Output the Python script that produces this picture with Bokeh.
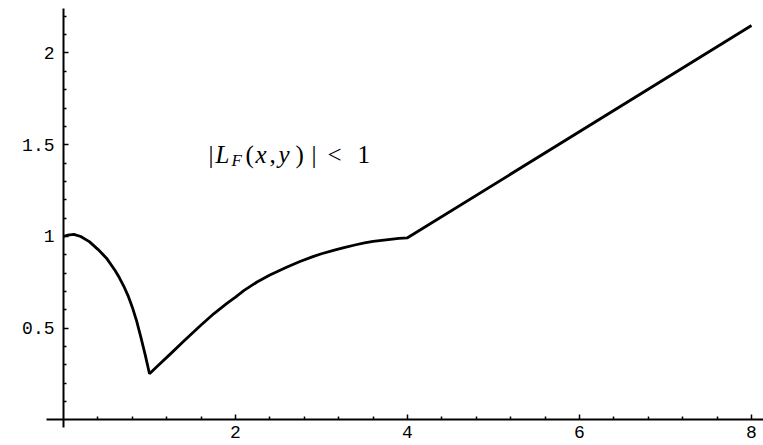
from bokeh.plotting import figure
from bokeh.models import LinearAxis, FixedTicker, Range1d, Label, NumeralTickFormatter
from bokeh.embed import file_html
from bokeh.resources import INLINE

# Curve
xs = [0.0, 0.05, 0.12, 0.2, 0.3, 0.4, 0.5, 0.6, 0.65, 0.7, 0.75, 0.8, 0.85, 0.9, 0.95, 1.0,
      1.1, 1.25, 1.4, 1.5, 1.6, 1.75, 1.9, 2.0, 2.1, 2.25, 2.4, 2.5, 2.6, 2.75, 2.9, 3.0,
      3.15, 3.25, 3.4, 3.5, 3.6, 3.75, 3.9, 4.0, 8.0]
ys = [1.0, 1.008, 1.012, 1.0, 0.972, 0.93, 0.882, 0.815, 0.775, 0.73, 0.678, 0.615, 0.54,
      0.45, 0.355, 0.252,
      0.297, 0.363, 0.43, 0.474, 0.518, 0.58, 0.635, 0.67, 0.706, 0.752, 0.79, 0.812, 0.834,
      0.864, 0.89, 0.906, 0.926, 0.938, 0.955, 0.965, 0.973, 0.982, 0.99, 0.993, 2.15]

x_major = [2, 4, 6, 8]
x_minor = [0.4, 0.8, 1.2, 1.6, 2.4, 2.8, 3.2, 3.6, 4.4, 4.8, 5.2, 5.6, 6.4, 6.8, 7.2, 7.6]
y_major = [0.5, 1.0, 1.5, 2.0]
y_minor = [0.1, 0.2, 0.3, 0.4, 0.6, 0.7, 0.8, 0.9, 1.1, 1.2, 1.3, 1.4,
           1.6, 1.7, 1.8, 1.9, 2.1, 2.2]

# (text, style, x offset px, y offset px, size)
annotation_parts = [
    ("|", "normal", 0, 0, "25px"),
    ("L", "italic", 7, 0, "25px"),
    ("F", "italic", 23, -6, "17px"),
    ("(", "normal", 37, 0, "25px"),
    ("x", "italic", 47, 0, "25px"),
    (",", "normal", 61, 0, "25px"),
    ("y", "italic", 70, 0, "25px"),
    (")", "normal", 87, 0, "25px"),
    ("|", "normal", 103, 0, "25px"),
    ("<", "normal", 119, 0, "25px"),
    ("1", "normal", 149, 0, "25px"),
]

p = figure(width=763, height=445, output_backend="svg", toolbar_location=None,
           x_range=Range1d(-0.7326, 8.1395), y_range=Range1d(-0.1390, 2.2861),
           x_axis_type=None, y_axis_type=None,
           min_border_left=0, min_border_right=0, min_border_top=0, min_border_bottom=0)
p.outline_line_color = None
p.xgrid.visible = False
p.ygrid.visible = False
p.background_fill_color = "white"
p.border_fill_color = "white"

xaxis = LinearAxis(ticker=FixedTicker(ticks=x_major, minor_ticks=x_minor),
                   formatter=NumeralTickFormatter(format="0"))
yaxis = LinearAxis(ticker=FixedTicker(ticks=y_major, minor_ticks=y_minor),
                   formatter=NumeralTickFormatter(format="0.[0]"))
xaxis.bounds = (-0.2, 8.14)
yaxis.bounds = (-0.04, 2.24)
for ax in (xaxis, yaxis):
    ax.fixed_location = 0
    ax.axis_line_color = "black"
    ax.axis_line_width = 2
    ax.major_tick_in = 5
    ax.major_tick_out = 0
    ax.minor_tick_in = 3
    ax.minor_tick_out = 0
    ax.major_tick_line_width = 1.5
    ax.minor_tick_line_width = 1.5
    ax.major_tick_line_color = "black"
    ax.minor_tick_line_color = "black"
    ax.major_label_text_font = "Liberation Mono"
    ax.major_label_text_font_size = "18px"
    ax.major_label_text_color = "black"
xaxis.major_label_standoff = 6
yaxis.major_label_standoff = 9
p.add_layout(xaxis, "below")
p.add_layout(yaxis, "left")

p.line(xs, ys, line_color="black", line_width=2.8)

for txt, style, dx, dy, size in annotation_parts:
    p.add_layout(Label(x=1.686, y=1.448, x_offset=dx, y_offset=dy, text=txt,
                       text_font="Liberation Serif", text_font_style=style,
                       text_font_size=size, text_color="black",
                       text_baseline="alphabetic", text_align="left"))

open("out.html", "w").write(file_html(p, INLINE))
